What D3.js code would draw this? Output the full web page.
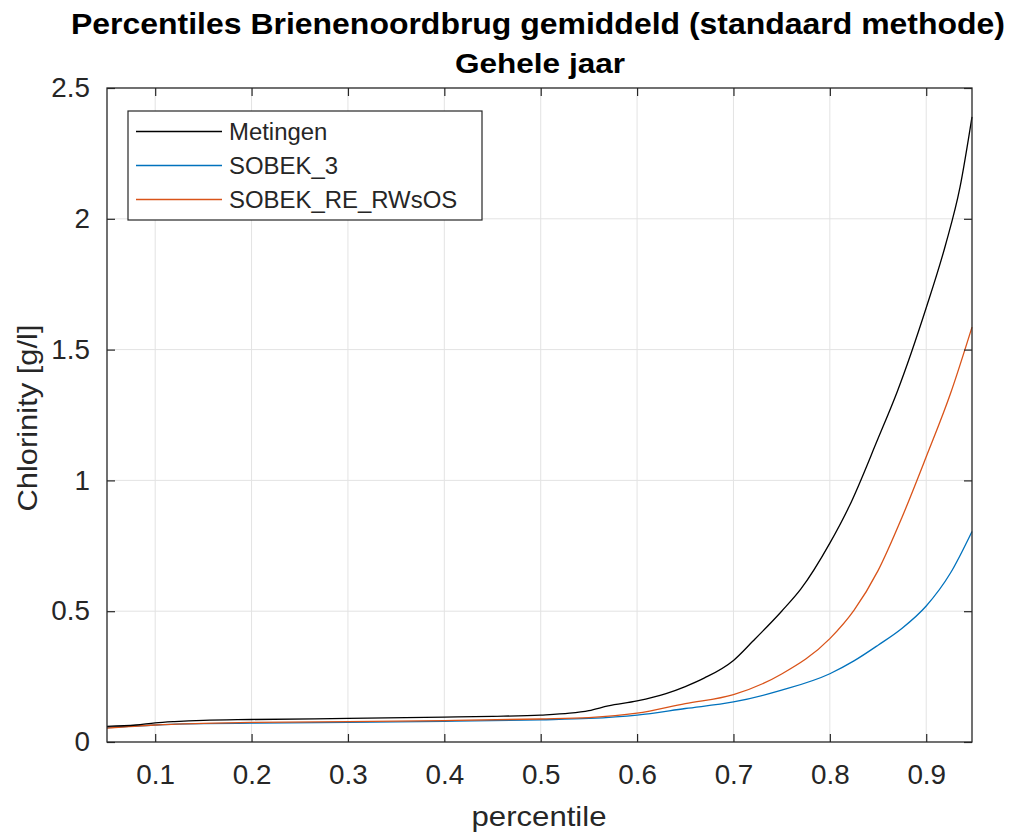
<!DOCTYPE html>
<html lang="en">
<head>
    <meta charset="UTF-8">
    <title>Percentiles Brienenoordbrug</title>
    <script src="https://cdnjs.cloudflare.com/ajax/libs/d3/7.8.2/d3.min.js"></script>
    <style>
        body{ margin: 0; background: #fff; }
        svg{ display: block; font-family: "Liberation Sans", Arial, sans-serif; }
    </style>
</head>
<body>
    <div class="container"></div>
    <script>
        // data
        let metingenX = [0.05, 0.08, 0.1, 0.12, 0.15, 0.2, 0.3, 0.4, 0.45, 0.5, 0.53, 0.55, 0.57, 0.6, 0.63, 0.65, 0.67, 0.7, 0.72, 0.75, 0.77, 0.8, 0.82, 0.85, 0.87, 0.9, 0.92, 0.935, 0.9475];
        let metingenY = [0.06, 0.065, 0.073, 0.078, 0.083, 0.086, 0.09, 0.095, 0.098, 0.103, 0.11, 0.12, 0.138, 0.157, 0.185, 0.212, 0.245, 0.312, 0.385, 0.5, 0.585, 0.76, 0.9, 1.16, 1.34, 1.66, 1.9, 2.12, 2.39];

        let sobek3X = [0.05, 0.1, 0.15, 0.2, 0.3, 0.4, 0.5, 0.55, 0.6, 0.65, 0.7, 0.75, 0.8, 0.825, 0.85, 0.875, 0.9, 0.925, 0.9475];
        let sobek3Y = [0.055, 0.065, 0.07, 0.072, 0.075, 0.079, 0.085, 0.09, 0.103, 0.128, 0.153, 0.198, 0.261, 0.31, 0.37, 0.435, 0.52, 0.645, 0.805];

        let rwsosX = [0.05, 0.1, 0.15, 0.2, 0.3, 0.4, 0.5, 0.55, 0.6, 0.65, 0.7, 0.75, 0.8, 0.825, 0.85, 0.875, 0.9, 0.925, 0.9475];
        let rwsosY = [0.053, 0.065, 0.071, 0.075, 0.078, 0.082, 0.088, 0.093, 0.11, 0.147, 0.181, 0.26, 0.395, 0.503, 0.655, 0.86, 1.09, 1.33, 1.586];

        let seriesNames = ['Metingen', 'SOBEK_3', 'SOBEK_RE_RWsOS'];
        let seriesColors = ['#000000', '#0072BD', '#D95319'];

        let xTicks = [0.1, 0.2, 0.3, 0.4, 0.5, 0.6, 0.7, 0.8, 0.9];
        let yTicks = [0, 0.5, 1, 1.5, 2, 2.5];

        let width = 1021;
        let height = 834;
        let plotLeft = 107, plotRight = 972, plotTop = 88, plotBottom = 742;
        let axisColor = '#262626';

        let svg = d3.select('.container').append('svg')
                    .attr('width', width).attr('height', height);

        // the picture's font runs a bit wider than Liberation Sans
        const stretch = (sel, factor) => {
            sel.each(function () {
                let w = this.getComputedTextLength();
                d3.select(this).attr('textLength', w * factor).attr('lengthAdjust', 'spacingAndGlyphs');
            });
        };

        let xScale = d3.scaleLinear().domain([0.05, 0.9475]).range([plotLeft, plotRight]);
        let yScale = d3.scaleLinear().domain([0, 2.5]).range([plotBottom, plotTop]);

        // grid
        svg.append('g').selectAll('line').data(xTicks).enter().append('line')
            .attr('x1', d => xScale(d)).attr('x2', d => xScale(d))
            .attr('y1', plotTop).attr('y2', plotBottom)
            .attr('stroke', '#e3e3e3').attr('stroke-width', 1);
        svg.append('g').selectAll('line').data(yTicks.slice(1, -1)).enter().append('line')
            .attr('x1', plotLeft).attr('x2', plotRight)
            .attr('y1', d => yScale(d)).attr('y2', d => yScale(d))
            .attr('stroke', '#e3e3e3').attr('stroke-width', 1);

        // lines
        let series = [
            metingenX.map((x, i) => [x, metingenY[i]]),
            sobek3X.map((x, i) => [x, sobek3Y[i]]),
            rwsosX.map((x, i) => [x, rwsosY[i]])
        ];
        let line = d3.line()
                     .x(d => xScale(d[0]))
                     .y(d => yScale(d[1]))
                     .curve(d3.curveMonotoneX);
        // blue, orange, then black on top
        [1, 2, 0].forEach(i => {
            svg.append('path').datum(series[i])
               .attr('d', line)
               .attr('fill', 'none')
               .attr('stroke', seriesColors[i])
               .attr('stroke-width', 1.3);
        });

        // axes (ticks inside, box on)
        const styleAxis = (g) => {
            g.select('.domain').remove();
            g.selectAll('.tick line').attr('stroke', axisColor).attr('stroke-width', 1.2);
            g.selectAll('.tick text').attr('fill', axisColor)
             .style('font-size', '27px').style('font-family', '"Liberation Sans", Arial, sans-serif');
        };

        let xAxis = d3.axisBottom(xScale).tickValues(xTicks).tickSizeInner(-8).tickSizeOuter(0).tickPadding(23).tickFormat(d3.format('.1f'));
        let gx = svg.append('g').attr('transform', `translate(0,${plotBottom})`).call(xAxis).call(styleAxis);
        stretch(gx.selectAll('.tick text'), 1.03);

        let xAxisTop = d3.axisTop(xScale).tickValues(xTicks).tickSizeInner(-8).tickSizeOuter(0).tickFormat('');
        svg.append('g').attr('transform', `translate(0,${plotTop})`).call(xAxisTop).call(styleAxis);

        let yAxis = d3.axisLeft(yScale).tickValues(yTicks).tickSizeInner(-8).tickSizeOuter(0).tickPadding(17).tickFormat(d => d3.format('')(d));
        let gy = svg.append('g').attr('transform', `translate(${plotLeft},0)`).call(yAxis).call(styleAxis);
        stretch(gy.selectAll('.tick text'), 1.03);

        let yAxisRight = d3.axisRight(yScale).tickValues(yTicks).tickSizeInner(-8).tickSizeOuter(0).tickFormat('');
        svg.append('g').attr('transform', `translate(${plotRight},0)`).call(yAxisRight).call(styleAxis);

        svg.append('rect')
           .attr('x', plotLeft).attr('y', plotTop)
           .attr('width', plotRight - plotLeft).attr('height', plotBottom - plotTop)
           .attr('fill', 'none').attr('stroke', axisColor).attr('stroke-width', 1.3);

        // titles
        svg.append('text').attr('x', 538).attr('y', 34)
           .attr('text-anchor', 'middle').attr('font-weight', 'bold').attr('font-size', 29)
           .attr('fill', '#000')
           .attr('textLength', 934).attr('lengthAdjust', 'spacingAndGlyphs')
           .text('Percentiles Brienenoordbrug gemiddeld (standaard methode)');
        svg.append('text').attr('x', 540).attr('y', 73)
           .attr('text-anchor', 'middle').attr('font-weight', 'bold').attr('font-size', 28.5)
           .attr('fill', '#000')
           .attr('textLength', 170).attr('lengthAdjust', 'spacingAndGlyphs')
           .text('Gehele jaar');

        svg.append('text').attr('x', 539).attr('y', 826)
           .attr('text-anchor', 'middle').attr('font-size', 28).attr('fill', axisColor)
           .attr('textLength', 135).attr('lengthAdjust', 'spacingAndGlyphs')
           .text('percentile');
        svg.append('text')
           .attr('transform', `translate(37,418) rotate(-90)`)
           .attr('text-anchor', 'middle').attr('font-size', 28).attr('fill', axisColor)
           .attr('textLength', 187).attr('lengthAdjust', 'spacingAndGlyphs')
           .text('Chlorinity [g/l]');

        // legend
        let legend = svg.append('g');
        legend.append('rect')
              .attr('x', 128).attr('y', 111).attr('width', 354).attr('height', 109)
              .attr('fill', '#fff').attr('stroke', axisColor).attr('stroke-width', 1.2);
        let rowY = [131.5, 165.5, 199.5];
        seriesNames.forEach((name, i) => {
            legend.append('line')
                  .attr('x1', 136).attr('x2', 222)
                  .attr('y1', rowY[i]).attr('y2', rowY[i])
                  .attr('stroke', seriesColors[i]).attr('stroke-width', 1.3);
            let t = legend.append('text')
                  .attr('x', 229).attr('y', rowY[i] + 8)
                  .attr('font-size', 23).attr('fill', axisColor)
                  .text(name);
            stretch(t, 1.04);
        });
    </script>
</body>
</html>
